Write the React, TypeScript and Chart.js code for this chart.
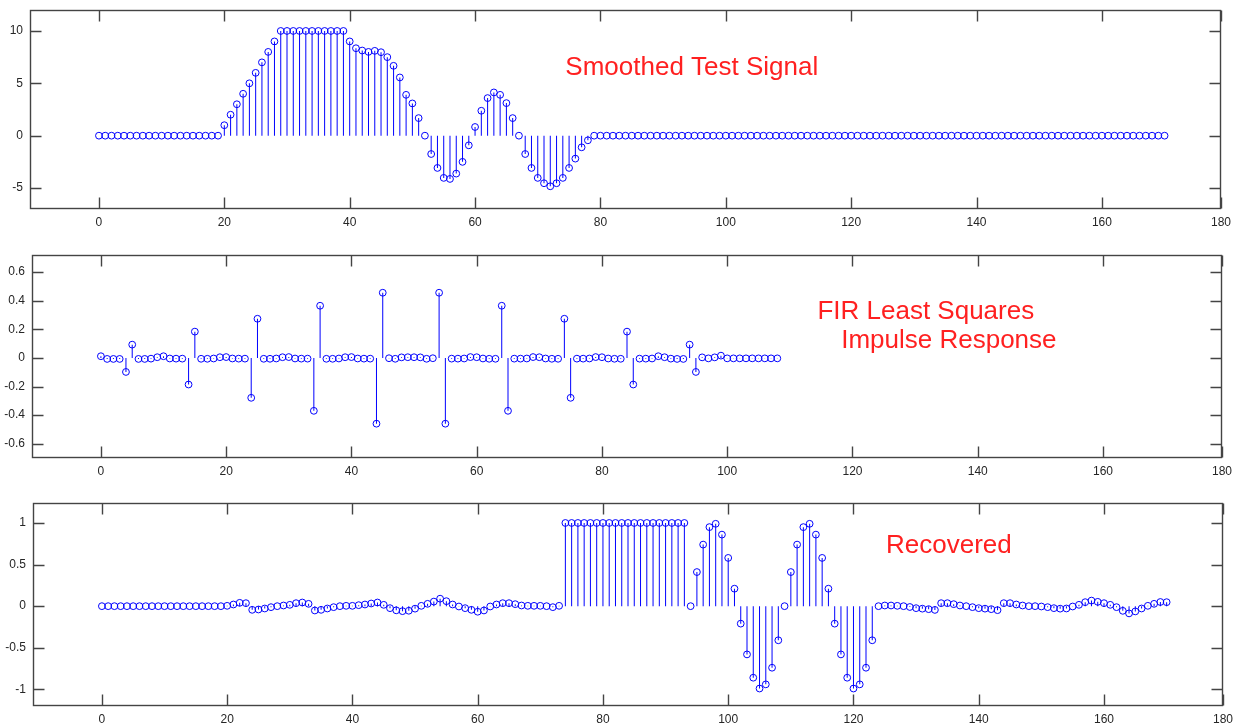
import React, { useEffect, useRef } from "react";
import { Chart, registerables } from "chart.js";

Chart.register(...registerables);

// ---- data -------------------------------------------------------------

// Smoothed test signal, samples n = 0..170
const SIGNAL: number[] = [
  0, 0, 0, 0, 0, 0, 0, 0, 0, 0,
  0, 0, 0, 0, 0, 0, 0, 0, 0, 0,
  1, 2, 3, 4, 5, 6, 7, 8, 9, 10,
  10, 10, 10, 10, 10, 10, 10, 10, 10, 10,
  9, 8.35, 8.13, 8.0, 8.1, 7.97, 7.5, 6.67, 5.56, 3.9,
  3.08, 1.68, 0, -1.75, -3.08, -4.03, -4.13, -3.62, -2.5, -0.92,
  0.83, 2.38, 3.59, 4.13, 3.9, 3.11, 1.68, 0, -1.75, -3.08,
  -4.03, -4.54, -4.83, -4.54, -4.03, -3.08, -2.19, -1.11, -0.44, 0,
  0, 0, 0, 0, 0, 0, 0, 0, 0, 0,
  0, 0, 0, 0, 0, 0, 0, 0, 0, 0,
  0, 0, 0, 0, 0, 0, 0, 0, 0, 0,
  0, 0, 0, 0, 0, 0, 0, 0, 0, 0,
  0, 0, 0, 0, 0, 0, 0, 0, 0, 0,
  0, 0, 0, 0, 0, 0, 0, 0, 0, 0,
  0, 0, 0, 0, 0, 0, 0, 0, 0, 0,
  0, 0, 0, 0, 0, 0, 0, 0, 0, 0,
  0, 0, 0, 0, 0, 0, 0, 0, 0, 0,
  0,
];

// FIR least-squares impulse response, taps n = 0..108
const FIR: number[] = [
  0.012, -0.007, -0.007, -0.007, -0.098, 0.093, -0.007, -0.007, -0.005, 0.005,
  0.012, -0.004, -0.005, -0.005, -0.186, 0.184, -0.006, -0.006, -0.004, 0.005,
  0.006, -0.004, -0.005, -0.005, -0.279, 0.274, -0.006, -0.006, -0.004, 0.005,
  0.006, -0.004, -0.005, -0.005, -0.37, 0.365, -0.006, -0.006, -0.004, 0.005,
  0.006, -0.004, -0.005, -0.005, -0.46, 0.456, -0.002, -0.006, 0.004, 0.005,
  0.005, 0.004, -0.006, -0.002, 0.456, -0.46, -0.005, -0.005, -0.004, 0.006,
  0.005, -0.004, -0.006, -0.006, 0.365, -0.37, -0.005, -0.005, -0.004, 0.006,
  0.005, -0.004, -0.006, -0.006, 0.274, -0.279, -0.005, -0.005, -0.004, 0.006,
  0.005, -0.004, -0.006, -0.006, 0.184, -0.186, -0.005, -0.005, -0.004, 0.012,
  0.005, -0.005, -0.007, -0.007, 0.093, -0.098, 0.004, -0.003, 0.004, 0.016,
  -0.003, -0.003, -0.003, -0.003, -0.003, -0.003, -0.003, -0.003, -0.003,
];

// Recovered signal, samples n = 0..170
const RECOVERED: number[] = [
  0, 0, 0, 0, 0, 0, 0, 0, 0, 0,
  0, 0, 0, 0, 0, 0, 0, 0, 0, 0,
  0.004, 0.02, 0.04, 0.036, -0.044, -0.04, -0.028, -0.012, 0, 0.008,
  0.016, 0.036, 0.044, 0.028, -0.052, -0.044, -0.028, -0.012, 0, 0.004,
  0.004, 0.012, 0.02, 0.032, 0.044, 0.016, -0.024, -0.05, -0.06, -0.055,
  -0.03, 0.004, 0.028, 0.055, 0.09, 0.06, 0.02, -0.004, -0.024, -0.044,
  -0.067, -0.052, -0.004, 0.02, 0.036, 0.036, 0.024, 0.008, 0.004, 0.004,
  0.004, 0, -0.012, 0.004, 1, 1, 1, 1, 1, 1,
  1, 1, 1, 1, 1, 1, 1, 1, 1, 1,
  1, 1, 1, 1, 0, 0.41, 0.74, 0.95, 0.99, 0.86,
  0.58, 0.21, -0.21, -0.58, -0.86, -0.99, -0.94, -0.74, -0.41, 0,
  0.41, 0.74, 0.95, 0.99, 0.86, 0.58, 0.21, -0.21, -0.58, -0.86,
  -0.99, -0.94, -0.74, -0.41, 0, 0.008, 0.008, 0.004, 0, -0.01,
  -0.024, -0.03, -0.036, -0.045, 0.036, 0.036, 0.024, 0.008, 0, -0.012,
  -0.024, -0.03, -0.036, -0.048, 0.036, 0.036, 0.02, 0.008, 0, 0,
  -0.004, -0.012, -0.024, -0.03, -0.028, -0.004, 0.016, 0.048, 0.067, 0.052,
  0.036, 0.016, -0.012, -0.056, -0.087, -0.063, -0.028, 0.004, 0.028, 0.05,
  0.048,
];

// Axis ticks
const X_TICKS: number[] = [0, 20, 40, 60, 80, 100, 120, 140, 160, 180];
const Y_TICKS_SIGNAL: number[] = [-5, 0, 5, 10];
const Y_TICKS_FIR: number[] = [-0.6, -0.4, -0.2, 0, 0.2, 0.4, 0.6];
const Y_TICKS_RECOVERED: number[] = [-1, -0.5, 0, 0.5, 1];

// ---- styling ------------------------------------------------------------

const STEM_BLUE = "#0000ff";
const FRAME_COLOR = "#444444";
const LABEL_COLOR = "#262626";
const NOTE_COLOR = "#ff2020";
const FONT_FAMILY = "'Liberation Sans', Arial, Helvetica, sans-serif";
const X_MIN = -11;
const X_MAX = 179;
const TICK_LEN = 11;

type Note = { text: string; x: number; y: number };
type Area = { left: number; right: number; top: number; bottom: number };
type PanelSpec = {
  values: number[];
  yMin: number;
  yMax: number;
  yTicks: number[];
  top: number;
  height: number;
  area: Area;
  notes: Note[];
};

// Box frame with inward tick marks on all four sides
const frameTicks = {
  id: "frameTicks",
  afterDraw(chart: any) {
    const { ctx, chartArea: a, scales } = chart;
    const L = Math.round(a.left) + 0.5;
    const R = Math.round(a.right) - 0.5;
    const T = Math.round(a.top) + 0.5;
    const B = Math.round(a.bottom) - 0.5;
    ctx.save();
    ctx.strokeStyle = FRAME_COLOR;
    ctx.lineWidth = 1.4;
    ctx.strokeRect(L, T, R - L, B - T);
    ctx.beginPath();
    scales.x.ticks.forEach((t: any) => {
      const px = Math.round(scales.x.getPixelForValue(t.value)) + 0.5;
      ctx.moveTo(px, T);
      ctx.lineTo(px, T + TICK_LEN);
      ctx.moveTo(px, B);
      ctx.lineTo(px, B - TICK_LEN);
    });
    scales.y.ticks.forEach((t: any) => {
      const py = Math.round(scales.y.getPixelForValue(t.value)) + 0.5;
      ctx.moveTo(L, py);
      ctx.lineTo(L + TICK_LEN, py);
      ctx.moveTo(R, py);
      ctx.lineTo(R - TICK_LEN, py);
    });
    ctx.stroke();
    ctx.restore();
  },
};

// Red text notes placed in data coordinates
const panelNotes = {
  id: "panelNotes",
  afterDraw(chart: any, _args: any, opts: any) {
    const notes: Note[] = (opts && opts.notes) || [];
    const { ctx, scales } = chart;
    ctx.save();
    ctx.fillStyle = NOTE_COLOR;
    ctx.font = `26px ${FONT_FAMILY}`;
    ctx.textAlign = "left";
    ctx.textBaseline = "alphabetic";
    notes.forEach((n) => {
      ctx.fillText(n.text, scales.x.getPixelForValue(n.x), scales.y.getPixelForValue(n.y));
    });
    ctx.restore();
  },
};

function StemPanel({ spec }: { spec: PanelSpec }) {
  const ref = useRef<HTMLCanvasElement | null>(null);

  useEffect(() => {
    if (!ref.current) return;
    const points = spec.values.map((v, i) => ({ x: i, y: v }));
    const { area } = spec;

    const chart = new Chart(ref.current, {
      type: "scatter",
      data: {
        datasets: [
          {
            type: "scatter",
            data: points,
            showLine: false,
            pointStyle: "circle",
            pointRadius: 3.4,
            pointHoverRadius: 3.4,
            pointBorderWidth: 1,
            pointBorderColor: STEM_BLUE,
            pointBackgroundColor: "rgba(0,0,0,0)",
          } as any,
          {
            type: "bar",
            data: points,
            barThickness: 1,
            backgroundColor: STEM_BLUE,
            borderWidth: 0,
            inflateAmount: 0,
          } as any,
        ],
      },
      options: {
        responsive: false,
        animation: false,
        events: [],
        layout: {
          padding: { top: area.top, right: 1244 - area.right, bottom: 0, left: 0 },
        },
        plugins: {
          legend: { display: false },
          tooltip: { enabled: false },
          panelNotes: { notes: spec.notes },
        } as any,
        scales: {
          x: {
            type: "linear",
            min: X_MIN,
            max: X_MAX,
            offset: false,
            grid: { display: false, drawTicks: false, offset: false },
            border: { display: false },
            afterBuildTicks: (scale: any) => {
              // the last tick sits on the right edge of the box
              scale.ticks = X_TICKS.map((v) => ({ value: Math.min(v, scale.max) }));
            },
            afterFit: (scale: any) => {
              scale.height = spec.height - area.bottom;
            },
            ticks: {
              padding: 6,
              maxRotation: 0,
              autoSkip: false,
              color: LABEL_COLOR,
              font: { family: FONT_FAMILY, size: 12 },
              callback: (_v: any, i: number) => String(X_TICKS[i]),
            },
          },
          y: {
            type: "linear",
            min: spec.yMin,
            max: spec.yMax,
            grid: { display: false, drawTicks: false },
            border: { display: false },
            afterBuildTicks: (scale: any) => {
              scale.ticks = spec.yTicks.map((v) => ({ value: v }));
            },
            afterFit: (scale: any) => {
              scale.width = area.left;
            },
            ticks: {
              padding: 7,
              autoSkip: false,
              color: LABEL_COLOR,
              font: { family: FONT_FAMILY, size: 12 },
              callback: (v: any) => String(v),
            },
          },
        },
      },
      plugins: [frameTicks, panelNotes],
    });

    return () => chart.destroy();
  }, [spec]);

  return (
    <canvas
      ref={ref}
      width={1244}
      height={spec.height}
      style={{ position: "absolute", left: 0, top: spec.top, display: "block" }}
    />
  );
}

const PANELS: PanelSpec[] = [
  {
    values: SIGNAL,
    yMin: -7,
    yMax: 12,
    yTicks: Y_TICKS_SIGNAL,
    top: -10,
    height: 246,
    area: { left: 30, right: 1221, top: 20, bottom: 219 },
    notes: [{ text: "Smoothed Test Signal", x: 74.4, y: 5.76 }],
  },
  {
    values: FIR,
    yMin: -0.7,
    yMax: 0.72,
    yTicks: Y_TICKS_FIR,
    top: 236,
    height: 246,
    area: { left: 32, right: 1222, top: 19, bottom: 222 },
    notes: [
      { text: "FIR Least Squares", x: 114.4, y: 0.27 },
      { text: "Impulse Response", x: 118.2, y: 0.068 },
    ],
  },
  {
    values: RECOVERED,
    yMin: -1.2,
    yMax: 1.24,
    yTicks: Y_TICKS_RECOVERED,
    top: 482,
    height: 246,
    area: { left: 33, right: 1223, top: 21, bottom: 224 },
    notes: [{ text: "Recovered", x: 125.2, y: 0.643 }],
  },
];

export default function App() {
  return (
    <div
      style={{
        position: "absolute",
        left: 0,
        top: 0,
        width: 1244,
        height: 728,
        background: "#ffffff",
        overflow: "hidden",
      }}
    >
      {PANELS.map((p, i) => (
        <StemPanel key={i} spec={p} />
      ))}
    </div>
  );
}
